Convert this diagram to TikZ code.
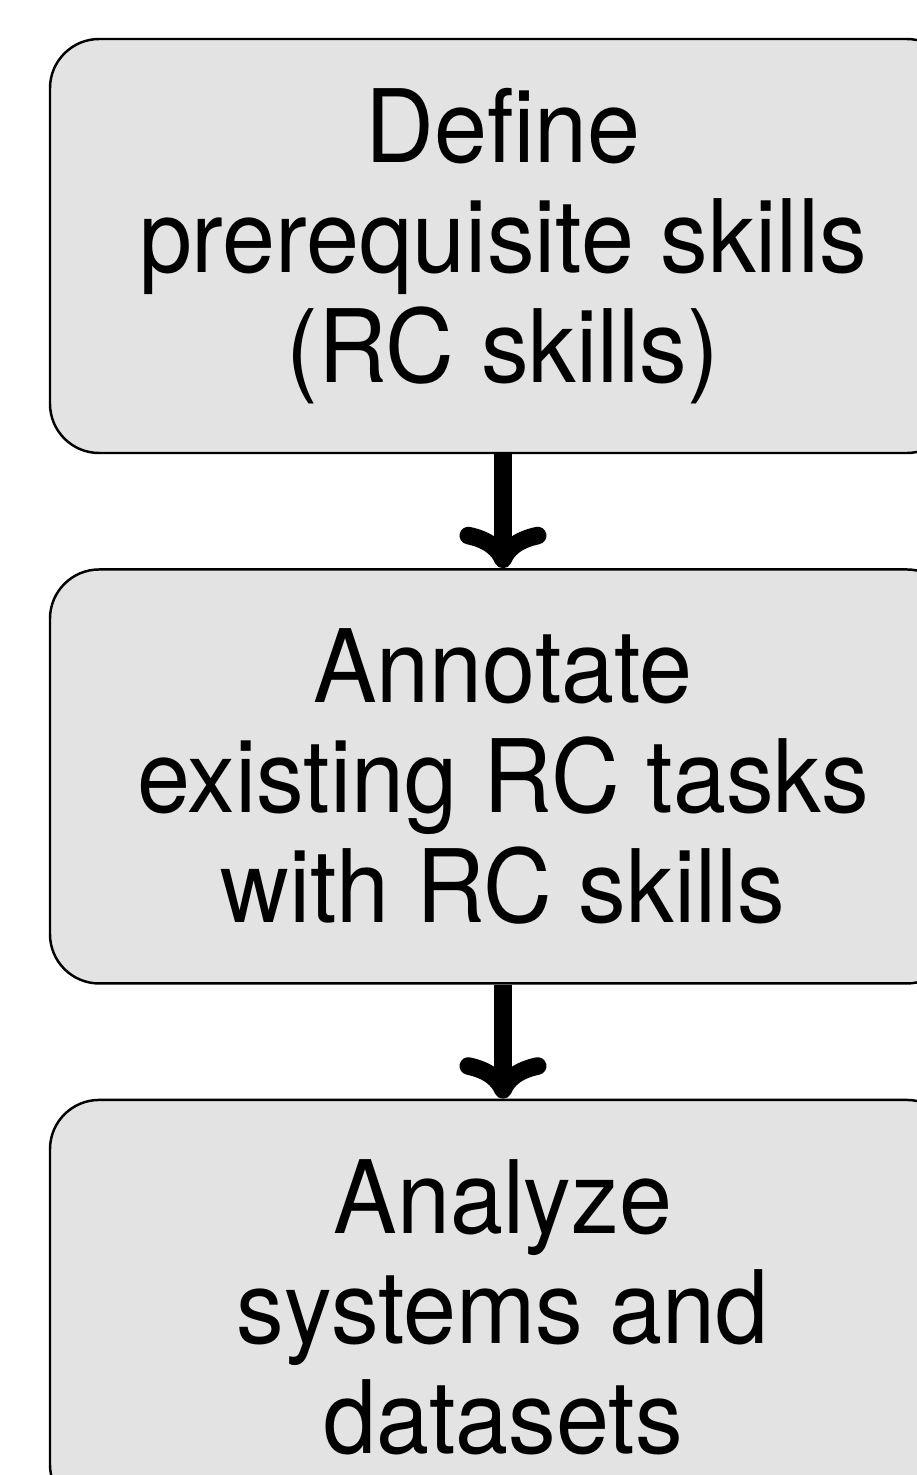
\documentclass[tikz,border=0pt]{standalone}
\usepackage{fontspec}
\setmainfont{TeX Gyre Heros}[FakeStretch=0.94]
\usetikzlibrary{arrows.meta, positioning}
\definecolor{cBox}{RGB}{227,227,227}
\tikzset{
	stepbox/.style={rectangle, rounded corners=28pt, minimum width=18.12cm, minimum height=8.28cm, text centered, align=center, draw=black, line width=1.4pt, fill=cBox, font=\fontsize{57.7}{62.6}\selectfont},
	flowarrow/.style={-{To[round]}, line width=10pt},
}
\begin{document}
\begin{tikzpicture}
	\useasboundingbox (0,0) rectangle (18.32,-29.5);
	\node[stepbox] (define) at (10.06,-4.92) {Define\\ prerequisite skills\\ (RC skills)};
	\node[stepbox, below=2.28cm of define] (annotate) {Annotate\\ existing RC tasks\\ with RC skills};
	\node[stepbox, below=2.28cm of annotate] (analyze) {Analyze\\ systems and\\ datasets};
	\draw[flowarrow] (define) -- (annotate);
	\draw[flowarrow] (annotate) -- (analyze);
\end{tikzpicture}
\end{document}
